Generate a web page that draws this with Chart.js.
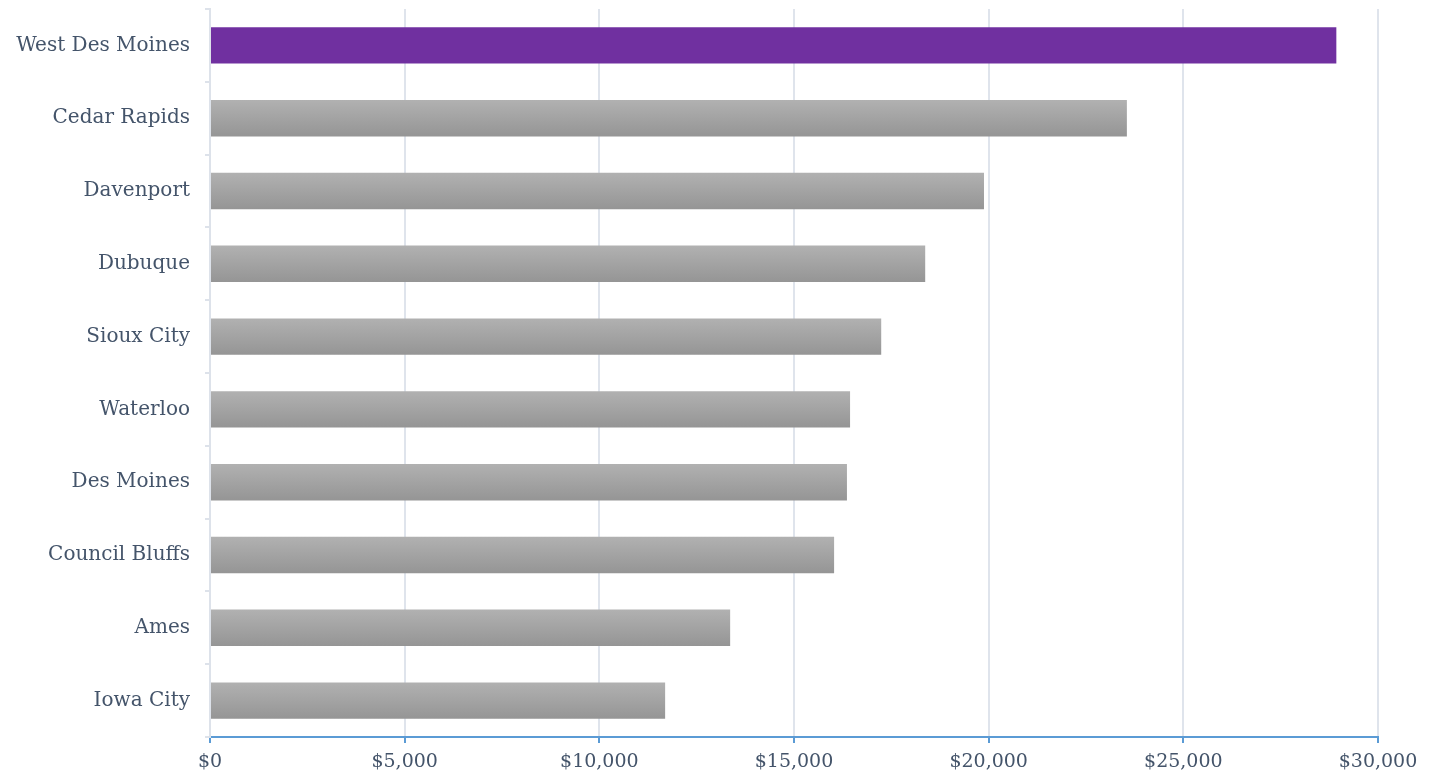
<!DOCTYPE html>
<html>
<head>
<meta charset="utf-8">
<script src="https://cdn.jsdelivr.net/npm/chart.js@4/dist/chart.umd.min.js"></script>
<style>
  html, body { margin: 0; padding: 0; background: #ffffff; }
  #wrap { width: 1441px; height: 780px; position: relative; }
</style>
</head>
<body>
<div id="wrap"><canvas id="chart"></canvas></div>
<script>
// Cities, ranked from highest to lowest
const cities = [
  'West Des Moines', 'Cedar Rapids', 'Davenport', 'Dubuque', 'Sioux City',
  'Waterloo', 'Des Moines', 'Council Bluffs', 'Ames', 'Iowa City'
];
// Dollar value per city
const values = [28930, 23550, 19880, 18370, 17240, 16440, 16360, 16030, 13360, 11690];
// Axis range and step
const xMin = 0;
const xMax = 30000;
const xStep = 5000;

const HIGHLIGHT = '#7030a0';
const TEXT = '#44546a';
const FONT = '"DejaVu Serif", "Liberation Serif", serif';

function barFill(context) {
  const chart = context.chart;
  const i = context.dataIndex;
  if (i === 0) return HIGHLIGHT;
  const y = chart.scales && chart.scales.y;
  if (!chart.chartArea || !y || typeof y.getPixelForValue !== 'function') return '#a3a3a3';
  const center = y.getPixelForValue(i);
  const half = (chart.chartArea.bottom - chart.chartArea.top) / cities.length * 0.25;
  const g = chart.ctx.createLinearGradient(0, center - half, 0, center + half);
  g.addColorStop(0, '#b1b1b1');
  g.addColorStop(1, '#959595');
  return g;
}

new Chart(document.getElementById('chart'), {
  type: 'bar',
  data: {
    labels: cities,
    datasets: [{
      data: values,
      backgroundColor: barFill,
      borderWidth: 0,
      categoryPercentage: 1.0,
      barPercentage: 0.5
    }]
  },
  options: {
    indexAxis: 'y',
    responsive: true,
    maintainAspectRatio: false,
    animation: false,
    layout: { padding: { top: 9, right: 63, bottom: 0, left: 0 } },
    plugins: { legend: { display: false }, tooltip: { enabled: false } },
    scales: {
      x: {
        min: xMin,
        max: xMax,
        ticks: {
          stepSize: xStep,
          color: TEXT,
          font: { family: FONT, size: 19 },
          padding: 8,
          callback: v => '$' + Number(v).toLocaleString('en-US')
        },
        grid: {
          color: '#dfe4ec',
          lineWidth: 2,
          tickColor: '#5b9bd5',
          tickLength: 6,
          drawTicks: true
        },
        border: { color: '#5b9bd5', width: 2 },
        afterFit: s => { s.height = 43; s.paddingLeft = 0; s.paddingRight = 0; }
      },
      y: {
        ticks: {
          color: TEXT,
          font: { family: FONT, size: 20 },
          padding: 15
        },
        grid: {
          offset: true,
          drawOnChartArea: false,
          drawTicks: true,
          tickLength: 5,
          color: '#dde2ea',
          lineWidth: 2
        },
        border: { color: '#dde2ea', width: 2 },
        afterFit: s => { s.width = 210; s.paddingTop = 0; s.paddingBottom = 0; }
      }
    }
  }
});
</script>
</body>
</html>
